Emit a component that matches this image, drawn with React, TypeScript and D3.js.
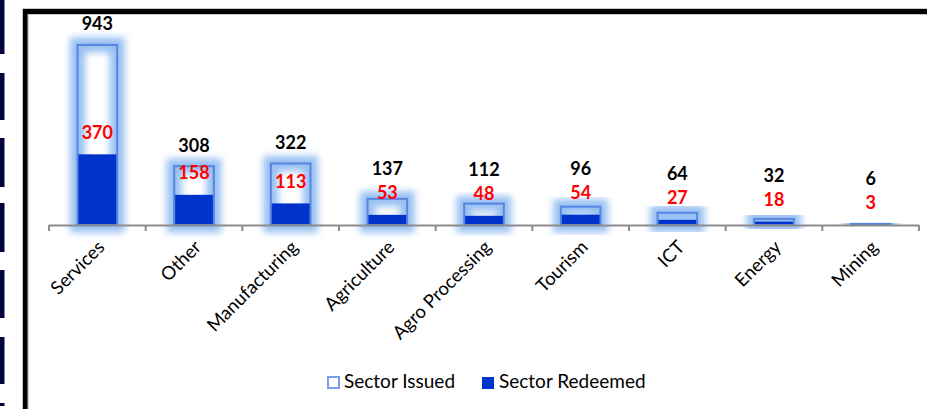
import React from "react";
import * as d3 from "d3";

const categories = ["Services", "Other", "Manufacturing", "Agriculture", "Agro Processing", "Tourism", "ICT", "Energy", "Mining"];
const issued = [943, 308, 322, 137, 112, 96, 64, 32, 6];
const redeemed = [370, 158, 113, 53, 48, 54, 27, 18, 3];
const legendLabels = ["Sector Issued", "Sector Redeemed"];
const yDomainMax = 1000;

const W = 927;
const H = 409;
const FONT = "Lato, 'Open Sans', sans-serif";

export default function App() {
  const x = d3.scaleBand<string>().domain(categories).range([49, 919]).paddingInner(0.59).paddingOuter(0.295);
  const y = d3.scaleLinear().domain([0, yDomainMax]).range([225, 34]);
  const bw = x.bandwidth();
  const step = x.step();
  const ticks = d3.range(categories.length + 1).map((i) => 49 + i * step);
  const navyBlocks = [[0, 54], [73, 120], [138, 187], [203, 252], [270, 318], [337, 384], [403, 406]];

  const redLabelY = (i: number) => y(redeemed[i]) - 20;
  const blackLabelY = (i: number) => Math.min(y(issued[i]) - 19, y(redeemed[i]) - 44);

  return (
    <svg width={W} height={H} style={{ position: "absolute", left: 0, top: 0, display: "block" }}>
      <defs>
        <filter id="glow" x="-50%" y="-50%" width="200%" height="200%">
          <feGaussianBlur stdDeviation="3.5" />
        </filter>
      </defs>
      <rect x={0} y={0} width={W} height={H} fill="#fff" />
      {navyBlocks.map(([a, b], i) => (
        <rect key={i} x={0} y={a} width={4.5} height={b - a} fill="#05053d" />
      ))}
      {/* frame */}
      <rect x={22} y={8} width={W - 22} height={7} fill="#c8c8c8" />
      <rect x={22} y={8} width={7} height={H - 8} fill="#c8c8c8" />
      <rect x={23} y={9} width={W - 23} height={5} fill="#000" />
      <rect x={23} y={9} width={4.5} height={H - 9} fill="#000" />

      {/* glow */}
      {categories.map((c, i) => (
        <rect key={"g" + c} x={x(c)!} y={y(issued[i])} width={bw} height={y(0) - y(issued[i])}
          fill="none" stroke="#98c0f2" strokeWidth={15} filter="url(#glow)" />
      ))}
      {/* redeemed */}
      {categories.map((c, i) => (
        <rect key={"r" + c} x={x(c)!} y={y(redeemed[i])} width={bw} height={y(0) - y(redeemed[i])} fill="#0033cc" />
      ))}
      {/* issued outline */}
      {categories.map((c, i) => (
        <rect key={"i" + c} x={x(c)!} y={y(issued[i])} width={bw} height={y(0) - y(issued[i])}
          fill="none" stroke="#5585e0" strokeWidth={2} />
      ))}

      {/* axis */}
      <line x1={49} x2={919} y1={225.5} y2={225.5} stroke="#8c8c8c" strokeWidth={2} />
      {ticks.map((t, i) => (
        <line key={i} x1={t} x2={t} y1={225} y2={231} stroke="#8c8c8c" strokeWidth={2} />
      ))}
      {categories.map((c) => {
        const cx = x(c)! + bw / 2 + 5;
        const cy = 245;
        return (
          <text key={"l" + c} x={cx} y={cy} transform={`rotate(-45 ${cx} ${cy})`} textAnchor="end"
            fontFamily={FONT} fontSize={18.5} fill="#000" dominantBaseline="middle">{c}</text>
        );
      })}

      {/* labels */}
      {categories.map((c, i) => (
        <text key={"li" + c} x={x(c)! + bw / 2} y={blackLabelY(i)} textAnchor="middle" dominantBaseline="middle"
          fontFamily={FONT} fontWeight="bold" fontSize={18} fill="#000">{issued[i]}</text>
      ))}
      {categories.map((c, i) => (
        <text key={"lr" + c} x={x(c)! + bw / 2} y={redLabelY(i)} textAnchor="middle" dominantBaseline="middle"
          fontFamily={FONT} fontWeight="bold" fontSize={18} fill="#ff0000">{redeemed[i]}</text>
      ))}

      {/* legend */}
      <rect x={328} y={377} width={11} height={11} fill="#fff" stroke="#7d9cf0" strokeWidth={2} />
      <text x={344} y={383} dominantBaseline="middle" fontFamily={FONT} fontSize={19} fill="#000">{legendLabels[0]}</text>
      <rect x={482} y={377} width={12} height={12} fill="#0033cc" />
      <text x={499} y={383} dominantBaseline="middle" fontFamily={FONT} fontSize={19} fill="#000">{legendLabels[1]}</text>
    </svg>
  );
}
